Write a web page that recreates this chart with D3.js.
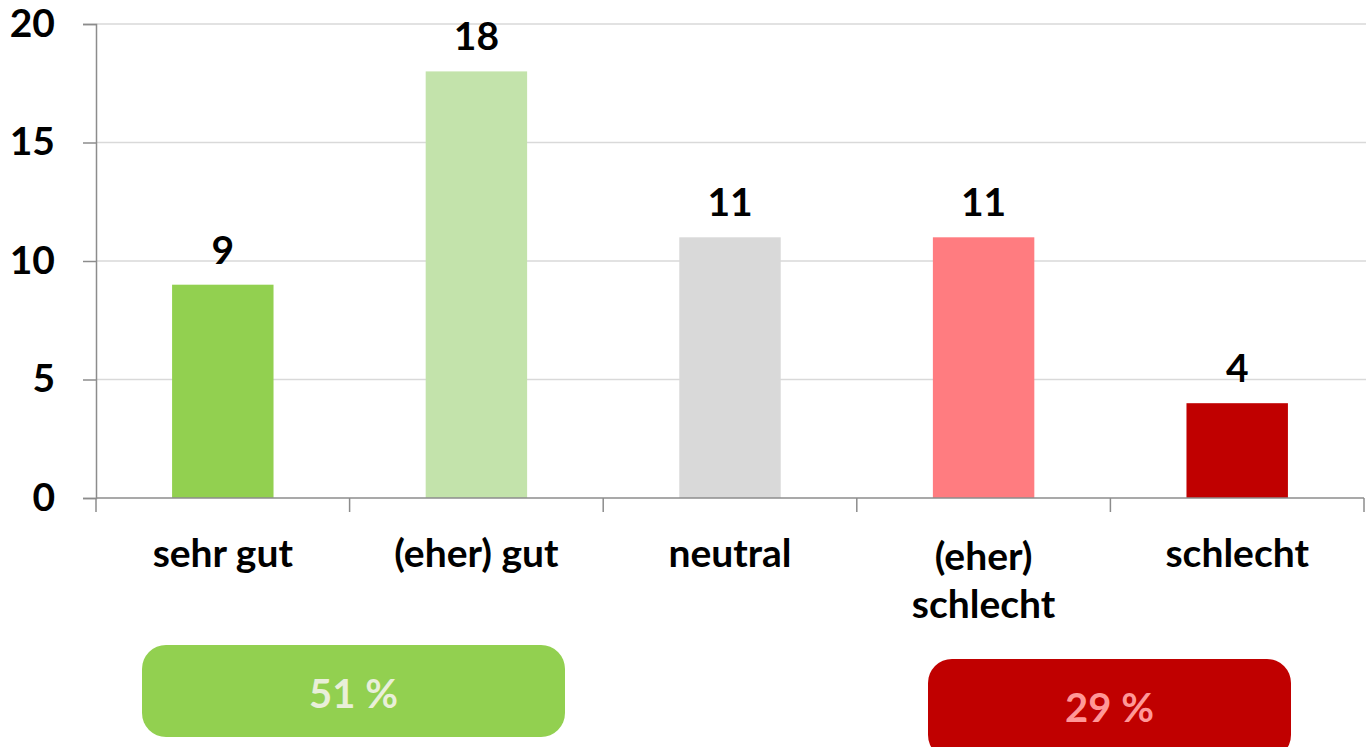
<!DOCTYPE html>
<html>
<head>
<meta charset="utf-8">
<script src="https://cdn.jsdelivr.net/npm/d3@7"></script>
<style>
  html, body { margin: 0; padding: 0; background: #fff; }
  svg { display: block; }
  text { font-family: Lato, "Open Sans", sans-serif; font-weight: 700; }
</style>
</head>
<body>
<svg id="chart" width="1366" height="747"></svg>
<script>
// Bewertungen: Anzahl der Antworten je Kategorie
const categories = ["sehr gut", "(eher) gut", "neutral", "(eher) schlecht", "schlecht"];
const labelLines = [["sehr gut"], ["(eher) gut"], ["neutral"], ["(eher)", "schlecht"], ["schlecht"]];
const values = [9, 18, 11, 11, 4];
const barColors = ["#92d050", "#c3e3ab", "#d9d9d9", "#ff7c80", "#c00000"];
const yTicks = [0, 5, 10, 15, 20];

// Zusammenfassungen (positiv / negativ)
const summaryLabels = ["51 %", "29 %"];
const summaryFill = ["#92d050", "#c00000"];
const summaryText = ["#e9efd9", "#ff9797"];

const svg = d3.select("#chart");
const W = 1366, H = 747;
const margin = { left: 96, right: 2, top: 24, bottom: 249 };
const FS = 39;

const x = d3.scaleBand()
  .domain(categories)
  .range([margin.left, W - margin.right])
  .paddingInner(0).paddingOuter(0);

const y = d3.scaleLinear()
  .domain([0, 20])
  .range([H - margin.bottom, margin.top]);

const barW = x.bandwidth() * 0.4;

// Gitterlinien
svg.append("g")
  .selectAll("line")
  .data(yTicks.filter(d => d > 0))
  .join("line")
  .attr("x1", margin.left).attr("x2", W)
  .attr("y1", d => y(d)).attr("y2", d => y(d))
  .attr("stroke", "#d9d9d9").attr("stroke-width", 1.5);

// Balken
svg.append("g")
  .selectAll("rect")
  .data(values)
  .join("rect")
  .attr("x", (d, i) => x(categories[i]) + (x.bandwidth() - barW) / 2)
  .attr("y", d => y(d))
  .attr("width", barW)
  .attr("height", d => y(0) - y(d))
  .attr("fill", (d, i) => barColors[i]);

// Y-Achse
const yAxis = d3.axisLeft(y).tickValues(yTicks).tickSize(13).tickPadding(28).tickFormat(d3.format("d"));
const gy = svg.append("g")
  .attr("transform", `translate(${margin.left},0)`)
  .call(yAxis);
gy.select(".domain").attr("stroke", "#8c8c8c").attr("stroke-width", 1.5);
gy.selectAll(".tick line").attr("stroke", "#8c8c8c").attr("stroke-width", 1.5);
gy.selectAll(".tick text")
  .attr("font-size", FS).attr("fill", "#000")
  .style("font-family", "Lato, sans-serif").style("font-weight", 700);

// X-Achse mit Trennstrichen zwischen den Kategorien
const gx = svg.append("g");
gx.append("line")
  .attr("x1", margin.left).attr("x2", W - margin.right)
  .attr("y1", y(0)).attr("y2", y(0))
  .attr("stroke", "#8c8c8c").attr("stroke-width", 1.5);
const bounds = categories.map(c => x(c)).concat([x.range()[1]]);
gx.selectAll("line.sep")
  .data(bounds)
  .join("line")
  .attr("class", "sep")
  .attr("x1", d => d).attr("x2", d => d)
  .attr("y1", y(0)).attr("y2", y(0) + 14)
  .attr("stroke", "#8c8c8c").attr("stroke-width", 1.5);

// Kategorienbeschriftung
const cat = svg.append("g")
  .selectAll("text")
  .data(labelLines)
  .join("text")
  .attr("text-anchor", "middle")
  .attr("font-size", FS)
  .attr("fill", "#000");
cat.each(function(lines, i) {
  const t = d3.select(this);
  const cx = x(categories[i]) + x.bandwidth() / 2;
  const startY = lines.length > 1 ? 570 : 567;
  lines.forEach((ln, k) => {
    t.append("tspan").attr("x", cx).attr("y", startY + k * 48).text(ln);
  });
});

// Wertebeschriftung über den Balken
svg.append("g")
  .selectAll("text")
  .data(values)
  .join("text")
  .attr("text-anchor", "middle")
  .attr("font-size", FS)
  .attr("fill", "#000")
  .attr("x", (d, i) => x(categories[i]) + x.bandwidth() / 2)
  .attr("y", d => y(d) - 21)
  .text(d => d);

// Zusammenfassungsfelder
const boxes = [
  { x: 142, y: 645, w: 423, h: 92 },
  { x: 928, y: 659, w: 363, h: 100 }
];
const sg = svg.append("g")
  .selectAll("g")
  .data(boxes)
  .join("g");
sg.append("rect")
  .attr("x", d => d.x).attr("y", d => d.y)
  .attr("width", d => d.w).attr("height", d => d.h)
  .attr("rx", 24).attr("ry", 24)
  .attr("fill", (d, i) => summaryFill[i]);
sg.append("text")
  .attr("text-anchor", "middle")
  .attr("font-size", 40)
  .attr("x", d => d.x + d.w / 2)
  .attr("y", (d, i) => i === 0 ? 708 : 722)
  .attr("fill", (d, i) => summaryText[i])
  .text((d, i) => summaryLabels[i]);
</script>
</body>
</html>
